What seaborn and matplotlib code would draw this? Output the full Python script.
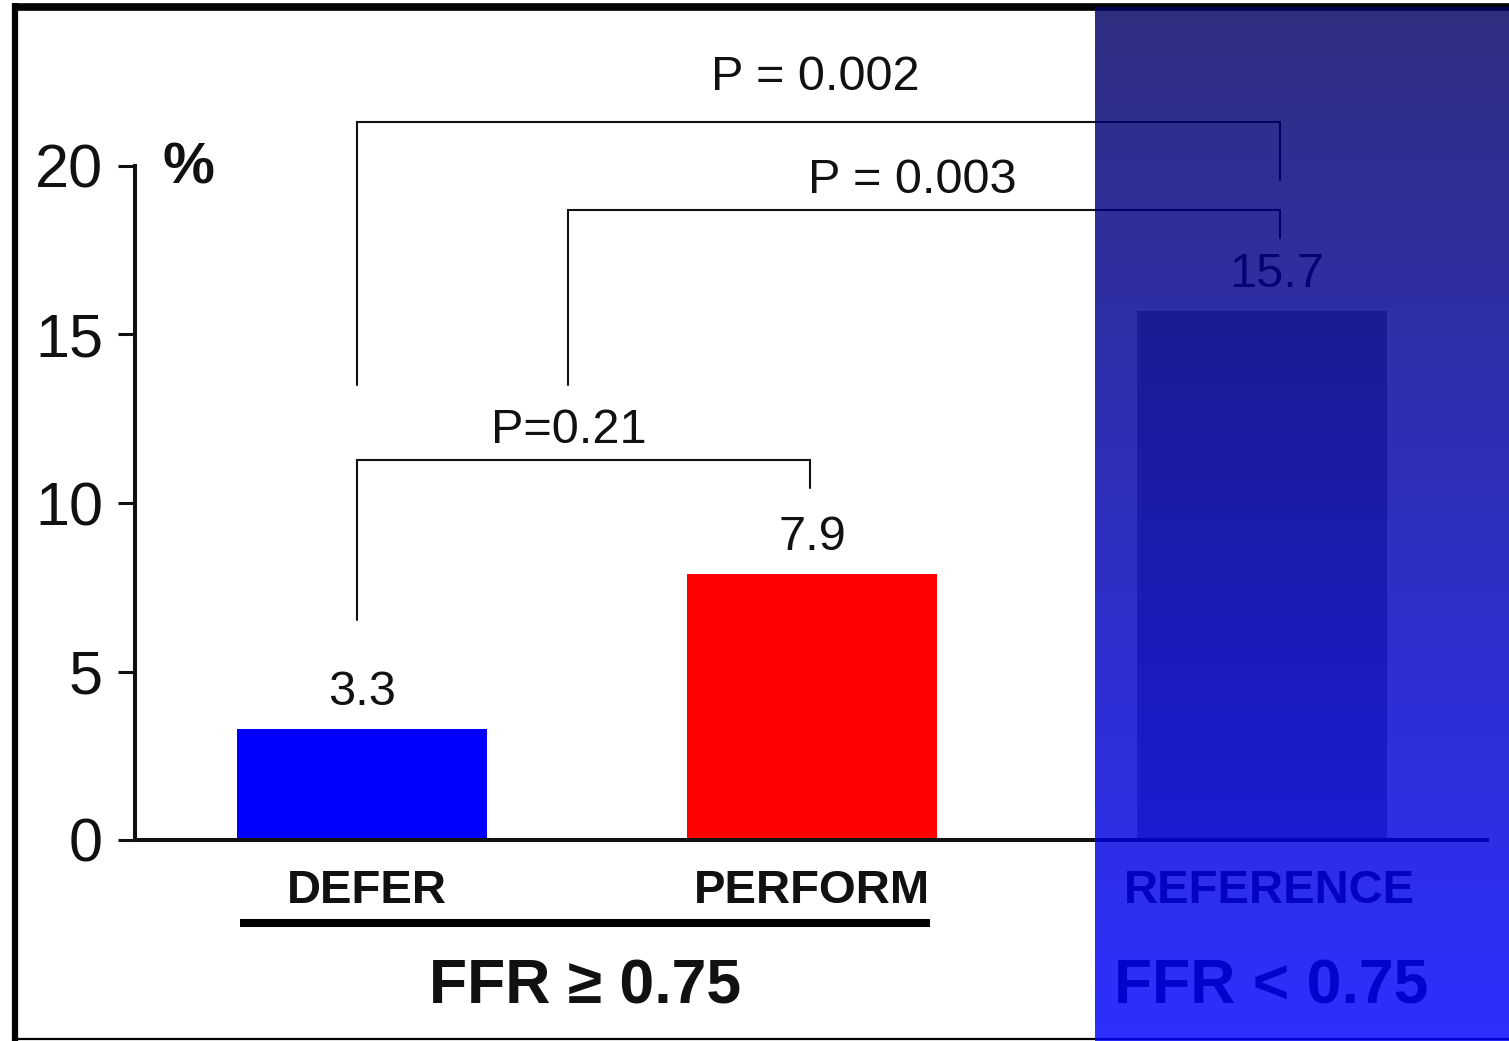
import numpy as np
import matplotlib
matplotlib.use("Agg")
import matplotlib.pyplot as plt
import matplotlib.transforms as mtransforms
import seaborn as sns
from matplotlib.lines import Line2D

# ---------------- data ----------------
categories = ["DEFER", "PERFORM", "REFERENCE"]
values = [3.3, 7.9, 15.7]
value_labels = ["3.3", "7.9", "15.7"]
bar_colors = ["#0000ff", "#ff0000", "#969696"]
yticks = [0, 5, 10, 15, 20]
group_labels = ["FFR \u2265 0.75", "FFR < 0.75"]
p_labels = ["P = 0.002", "P = 0.003", "P=0.21"]

# ---------------- style ----------------
sns.set_style("ticks")
plt.rcParams["font.family"] = ["Liberation Sans", "DejaVu Sans"]
TXT = "#111111"

W, H = 1509, 1041
fig = plt.figure(figsize=(W / 100, H / 100), dpi=100)
fig.patch.set_facecolor("white")

def fx(px):
    return px / W

def fy(py):
    return 1 - py / H

ax = fig.add_axes([fx(135), fy(840), fx(1487) - fx(135), fy(166) - fy(840)])

sns.barplot(x=categories, y=values, hue=categories, palette=bar_colors,
            legend=False, width=0.556, saturation=1, linewidth=0, ax=ax)

ax.set_xlim(-0.504, 2.5)
ax.set_ylim(0, 20)
ax.set_yticks(yticks)
ax.set_yticklabels([str(t) for t in yticks], fontsize=44, color=TXT)
ax.tick_params(axis="y", length=12.5, width=2.2, pad=10.5, color=TXT, direction="out")
ax.set_xticks(range(len(categories)))
ax.set_xticklabels(categories, fontsize=34, fontweight="bold", color=TXT)
ax.tick_params(axis="x", length=0, pad=45.5)
label_dx_px = [5, 0, 7]
for lbl, dx in zip(ax.get_xticklabels(), label_dx_px):
    lbl.set_va("baseline")
    lbl.set_transform(lbl.get_transform() +
                      mtransforms.ScaledTranslation(dx / 100, 0, fig.dpi_scale_trans))
ax.set_xlabel("")
ax.set_ylabel("")
for s in ["top", "right"]:
    ax.spines[s].set_visible(False)
ax.spines["left"].set_linewidth(2.9)
ax.spines["bottom"].set_linewidth(2.9)
ax.spines["left"].set_color(TXT)
ax.spines["bottom"].set_color(TXT)
ax.patch.set_alpha(0)

# value labels
value_dx = [0, 0, 0.033]
for i, (v, lab) in enumerate(zip(values, value_labels)):
    ax.text(i + value_dx[i], v + 0.7, lab, ha="center", va="baseline", fontsize=35,
            color=TXT, clip_on=False)

# significance brackets: (x0, x1, y_top, y_left_bottom, y_right_bottom, text_x, text_y)
brackets = [
    (-0.011, 2.04, 21.3, 13.5, 19.58, 1.007, 22.26),
    (0.458, 2.04, 18.7, 13.5, 17.86, 1.224, 19.2),
    (-0.011, 0.996, 11.28, 6.53, 10.45, 0.46, 11.78),
]
for (x0, x1, yt, yl, yr, tx, ty), pl in zip(brackets, p_labels):
    ax.plot([x0, x0, x1, x1], [yl, yt, yt, yr], color=TXT, lw=1.5,
            clip_on=False, solid_joinstyle="miter")
    ax.text(tx, ty, pl, ha="center", va="baseline", fontsize=35, color=TXT,
            clip_on=False)

# percent sign
fig.text(fx(188), fy(183), "%", ha="center", va="baseline", fontsize=42,
         fontweight="bold", color=TXT)

# group underline and labels
fig.add_artist(Line2D([fx(240), fx(930)], [fy(923), fy(923)], color="black",
                      lw=5.8, solid_capstyle="butt", transform=fig.transFigure))
fig.text(fx(585), fy(1003), group_labels[0], ha="center", va="baseline",
         fontsize=45, fontweight="bold", color=TXT)
fig.text(fx(1271), fy(1003), group_labels[1], ha="center", va="baseline",
         fontsize=45, fontweight="bold", color=TXT)

# frame
fig.add_artist(Line2D([fx(15), fx(15)], [fy(3), fy(1041)], color="black", lw=4.5,
                      solid_capstyle="butt", transform=fig.transFigure))
fig.add_artist(Line2D([fx(12), fx(1509)], [fy(7), fy(7)], color="black", lw=5.5,
                      solid_capstyle="butt", transform=fig.transFigure))
fig.add_artist(Line2D([fx(12), fx(1509)], [fy(1038.5), fy(1038.5)], color="black",
                      lw=1.6, solid_capstyle="butt", transform=fig.transFigure))

# translucent blue gradient panel on the right
n = 256
grad = np.zeros((n, 1, 4))
t = np.linspace(0, 1, n)
grad[:, 0, 2] = (100 + 155 * t) / 255
grad[:, 0, 3] = 0.82
ov = fig.add_axes([fx(1095), 0, 1 - fx(1095), fy(7)], zorder=10)
ov.imshow(grad, aspect="auto", interpolation="bilinear", extent=[0, 1, 0, 1])
ov.set_axis_off()

fig.savefig("out.png", dpi=100)
